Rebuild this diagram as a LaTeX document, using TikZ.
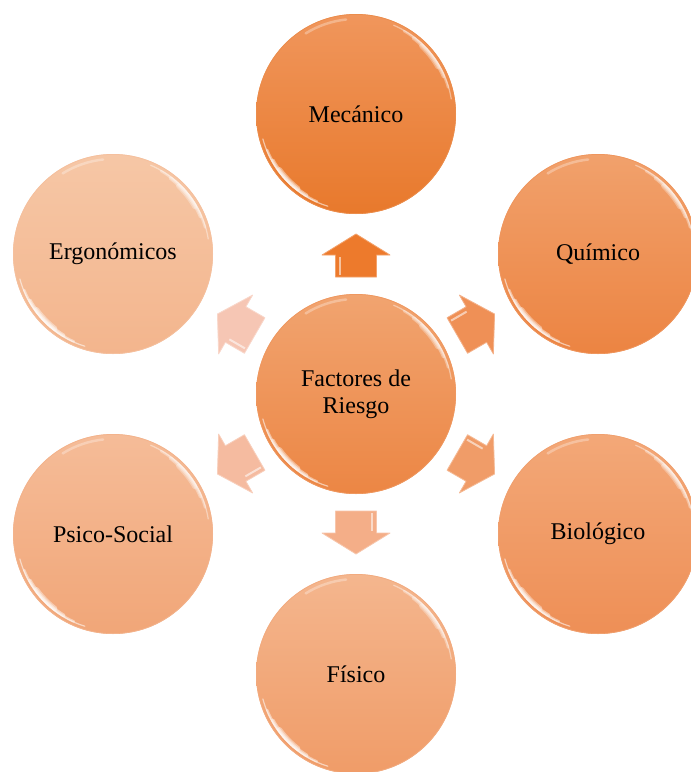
\documentclass[tikz,border=0pt]{standalone}
\usepackage{fontspec}
\setmainfont{Liberation Serif}
\usetikzlibrary{calc}

% fill shades, from the deepest orange to the palest
\definecolor{mecTop}{RGB}{240,150,92}   \definecolor{mecBot}{RGB}{232,121,44}
\definecolor{cenTop}{RGB}{241,164,112}  \definecolor{cenBot}{RGB}{236,134,68}
\definecolor{quiTop}{RGB}{241,161,108}  \definecolor{quiBot}{RGB}{236,132,66}
\definecolor{bioTop}{RGB}{243,168,120}  \definecolor{bioBot}{RGB}{238,143,86}
\definecolor{fisTop}{RGB}{244,182,142}  \definecolor{fisBot}{RGB}{240,156,104}
\definecolor{psiTop}{RGB}{245,188,152}  \definecolor{psiBot}{RGB}{241,166,120}
\definecolor{ergTop}{RGB}{246,199,166}  \definecolor{ergBot}{RGB}{243,181,141}

\definecolor{arMec}{RGB}{237,122,44}
\definecolor{arQui}{RGB}{239,144,86}
\definecolor{arBio}{RGB}{240,156,104}
\definecolor{arFis}{RGB}{244,174,136}
\definecolor{arPsi}{RGB}{245,187,160}
\definecolor{arErg}{RGB}{246,198,180}

\tikzset{
  bubble/.style={circle, minimum size=200pt, inner sep=0pt, outer sep=0pt,
    font=\fontsize{24}{27}\selectfont, align=center, text=black},
  gloss/.style={white, line cap=round},
}

% one tapered highlight: stacked arcs, centred on angle #2, on circle #1,
% peak opacity #3
\newcommand\streak[3]{%
  \foreach \h/\w/\o in {29/1.2/0.55, 22/2.4/0.45, 15/3.6/0.45, 8/5/0.4}{%
    \draw[gloss, line width=\w pt, opacity=\o*#3]
      ([shift={(#2-\h:97pt-\w pt/2)}]#1.center)
      arc[start angle=#2-\h, end angle=#2+\h, radius=97pt-\w pt/2];
  }}

% glossy rim highlights on a circle
\newcommand\gleam[1]{%
  \streak{#1}{224}{1}%
  \streak{#1}{38}{0.75}%
  \draw[gloss, line width=2.5pt, opacity=.3]
    ([shift={(96:95pt)}]#1.center) arc[start angle=96, end angle=122, radius=95pt];
}

% block arrow leaving the central node #1 in direction #2, filled with #3
\newcommand\bolt[3]{%
  \begin{scope}[shift={(#1.center)}, rotate=#2]
    \fill[#3] (117,-20.5) -- (139,-20.5) -- (139,-34) -- (160,0)
      -- (139,34) -- (139,20.5) -- (117,20.5) -- cycle;
    \draw[#3!70!white, line width=0.8pt, line join=round]
      (117,-20.5) -- (139,-20.5) -- (139,-34) -- (160,0)
      -- (139,34) -- (139,20.5) -- (117,20.5) -- cycle;
    \draw[white, opacity=.55, line width=2pt] (119,-16) -- (137,-16);
  \end{scope}}

\begin{document}
\begin{tikzpicture}[x=1pt, y=-1pt]
  \clip (0,0) rectangle (691,772);
  \fill[white] (0,0) rectangle (691,772);

  \node[bubble, top color=cenTop, bottom color=cenBot] (c) at (356,394) {Factores de\\Riesgo};
  \node[bubble, top color=mecTop, bottom color=mecBot] (mec) at (356,114) {Mecánico};
  \node[bubble, top color=quiTop, bottom color=quiBot] (qui) at (598,254) {Químico};
  \node[bubble, top color=bioTop, bottom color=bioBot] (bio) at (598,534) {Biológico};
  \node[bubble, top color=fisTop, bottom color=fisBot] (fis) at (356,674) {Físico};
  \node[bubble, top color=psiTop, bottom color=psiBot] (psi) at (113,534) {Psico-Social};
  \node[bubble, top color=ergTop, bottom color=ergBot] (erg) at (113,254) {Ergonómicos};

  \foreach \n/\col in {c/cenBot, mec/mecBot, qui/quiBot, bio/bioBot, fis/fisBot, psi/psiBot, erg/ergBot}{
    \draw[\col!85!white, line width=0.7pt] (\n) circle[radius=99.6pt];
    \gleam{\n}
  }

  \bolt{c}{90}{arMec}
  \bolt{c}{30}{arQui}
  \bolt{c}{-30}{arBio}
  \bolt{c}{-90}{arFis}
  \bolt{c}{210}{arPsi}
  \bolt{c}{150}{arErg}
\end{tikzpicture}
\end{document}
